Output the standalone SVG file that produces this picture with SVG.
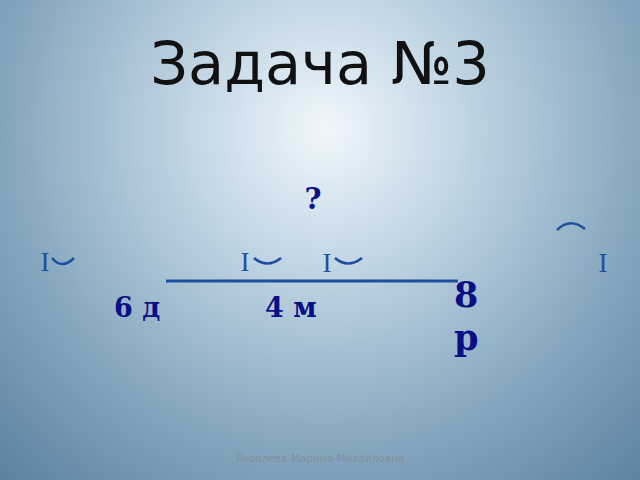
<svg xmlns="http://www.w3.org/2000/svg" width="640" height="480" viewBox="0 0 640 480">
<defs>
<radialGradient id="bg" cx="325" cy="130" r="540" gradientUnits="userSpaceOnUse">
<stop offset="0" stop-color="#f0f7fc"/>
<stop offset="0.25" stop-color="#c2d6e4"/>
<stop offset="0.6" stop-color="#84a5be"/>
<stop offset="1" stop-color="#4b7393"/>
</radialGradient>
<style>
.mk{font-family:"Liberation Serif",serif;font-size:27px;fill:#1d4f9e}
.arc{fill:none;stroke:#1d4f9e;stroke-width:2.6}
.lb{font-family:"DejaVu Serif","Liberation Serif",serif;font-weight:bold;fill:#0a0f85}
</style>
</defs>
<rect width="640" height="480" fill="url(#bg)"/>
<text x="320" y="84" text-anchor="middle" font-family="DejaVu Sans,sans-serif" font-size="59" fill="#111">Задача №3</text>
<g id="question"><text x="313" y="209" text-anchor="middle" class="lb" font-size="29">?</text></g>
<g id="connectors">
<line x1="166" y1="281" x2="458" y2="281" stroke="#1d4f9e" stroke-width="3"/>
</g>
<g id="marks">
<text x="45" y="271" text-anchor="middle" class="mk">I</text>
<path class="arc" d="M52 258 Q62 270 74 258"/>
<text x="245" y="271" text-anchor="middle" class="mk">I</text>
<path class="arc" d="M254 258 Q267 269 281 258"/>
<text x="327" y="272" text-anchor="middle" class="mk">I</text>
<path class="arc" d="M335 258 Q348 269 362 258"/>
<path class="arc" d="M557 230 Q570 217 585 229"/>
<text x="603" y="272" text-anchor="middle" class="mk">I</text>
</g>
<g id="label6d"><text x="114" y="317" class="lb" font-size="27">6 д</text></g>
<g id="label4m"><text x="265" y="317" class="lb" font-size="27">4 м</text></g>
<g id="label8r">
<text x="454" y="307" class="lb" font-size="35">8</text>
<text x="454" y="350" class="lb" font-size="35">р</text>
</g>
<text x="320" y="462" text-anchor="middle" font-family="DejaVu Sans,sans-serif" font-size="10.5" fill="#7f8f9c">Яковлева Марина Михайловна</text>
</svg>
